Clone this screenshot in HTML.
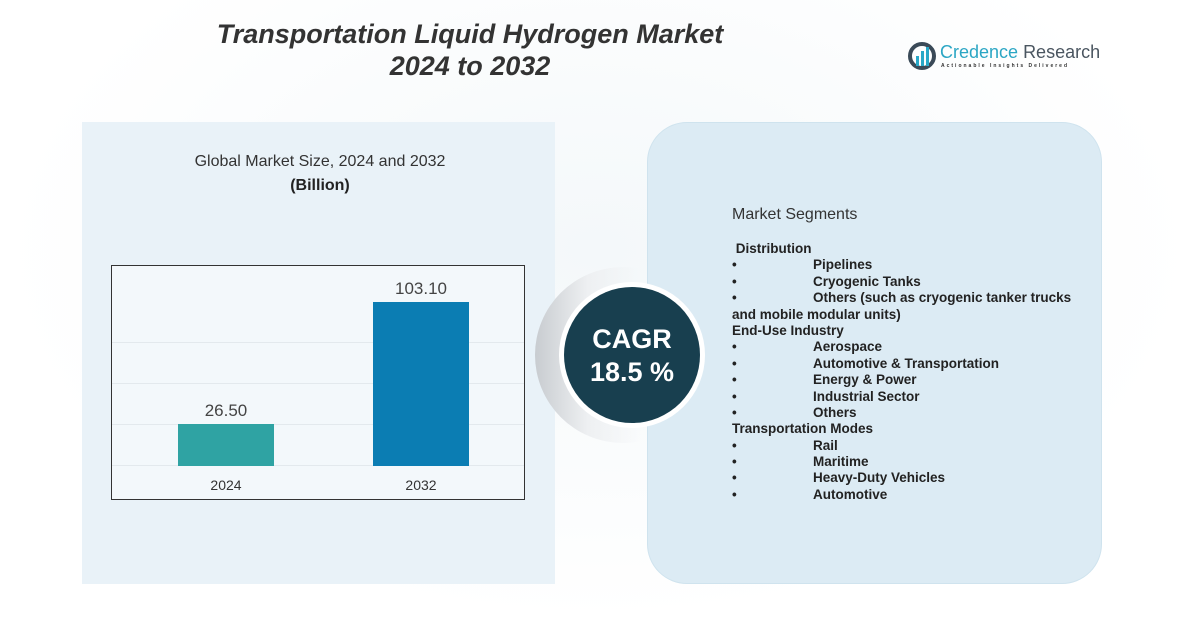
<!DOCTYPE html>
<html><head><meta charset="utf-8"><style>
body{margin:0;width:1197px;height:622px;background:#fff;position:relative;overflow:hidden;font-family:"Liberation Sans",sans-serif}
.a{position:absolute}
.seg div{height:16.4px;white-space:nowrap}
</style></head><body>
<div class="a" style="left:0;top:0;width:1197px;height:622px;background:radial-gradient(ellipse at 50% 40%,#f4f8fa,#fff 70%)"></div>
<div class="a" style="left:82px;top:122px;width:473px;height:462px;background:#e9f2f8"></div>
<div class="a" style="left:647px;top:122px;width:455px;height:462px;background:#dcebf4;border-radius:40px;border:1px solid #cfe3ee;box-sizing:border-box"></div>
<div class="a" style="left:150px;top:18px;width:640px;text-align:center;font-size:27px;font-weight:bold;font-style:italic;color:#333;line-height:32px">Transportation Liquid Hydrogen Market<br>2024 to 2032</div>
<svg class="a" style="left:908px;top:42px" width="30" height="30"><circle cx="14" cy="14" r="12" fill="none" stroke="#3a4a58" stroke-width="4"/><rect x="8" y="14" width="3" height="10" fill="#27a8c8"/><rect x="13" y="9" width="3" height="15" fill="#27a8c8"/><rect x="18" y="5" width="3" height="19" fill="#27a8c8"/></svg>
<div class="a" style="left:940px;top:42px;font-size:18px;color:#2ba6c4;white-space:nowrap">Credence <span style="color:#4a5560">Research</span></div>
<div class="a" style="left:941px;top:63px;font-size:5px;letter-spacing:2px;color:#333;font-weight:bold;white-space:nowrap">Actionable Insights Delivered</div>
<div class="a" style="left:150px;top:153px;width:340px;text-align:center;font-size:16px;color:#333">Global Market Size, 2024 and 2032</div>
<div class="a" style="left:150px;top:177px;width:340px;text-align:center;font-size:16px;font-weight:bold;color:#222">(Billion)</div>
<div class="a" style="left:111px;top:265px;width:414px;height:235px;border:1px solid #333;box-sizing:border-box;background:#f3f8fb"></div>
<div class="a" style="left:112px;top:302px;width:412px;height:164px;background:repeating-linear-gradient(#f3f8fb 0 40px,#e3e9ed 40px 41px)"></div>
<div class="a" style="left:178px;top:424px;width:96px;height:42px;background:#2fa3a3"></div>
<div class="a" style="left:373px;top:302px;width:96px;height:164px;background:#0b7db3"></div>
<div class="a" style="left:178px;top:401px;width:96px;text-align:center;font-size:17px;color:#444">26.50</div>
<div class="a" style="left:373px;top:279px;width:96px;text-align:center;font-size:17px;color:#444">103.10</div>
<div class="a" style="left:178px;top:477px;width:96px;text-align:center;font-size:14px;color:#333">2024</div>
<div class="a" style="left:373px;top:477px;width:96px;text-align:center;font-size:14px;color:#333">2032</div>
<div class="a" style="left:535px;top:267px;width:176px;height:176px;border-radius:50%;background:linear-gradient(90deg,#c8ccd0,#eef0f2 30%,rgba(255,255,255,0) 60%)"></div>
<div class="a" style="left:559px;top:282px;width:146px;height:146px;border-radius:50%;background:#fff"></div>
<div class="a" style="left:564px;top:287px;width:136px;height:136px;border-radius:50%;background:#183f4f;color:#fff;text-align:center;font-weight:bold;font-size:27px;line-height:33px;box-sizing:border-box;padding-top:36px">CAGR<br>18.5 %</div>
<div class="a" style="left:732px;top:206px;font-size:16px;color:#333">Market Segments</div>
<div class="a seg" style="left:732px;top:241px;font-size:13.5px;font-weight:bold;color:#222;line-height:16.4px">
<div>&nbsp;Distribution</div>
<div>•<span style="position:absolute;left:81px">Pipelines</span></div>
<div>•<span style="position:absolute;left:81px">Cryogenic Tanks</span></div>
<div>•<span style="position:absolute;left:81px">Others (such as cryogenic tanker trucks</span></div>
<div>and mobile modular units)</div>
<div>End-Use Industry</div>
<div>•<span style="position:absolute;left:81px">Aerospace</span></div>
<div>•<span style="position:absolute;left:81px">Automotive &amp; Transportation</span></div>
<div>•<span style="position:absolute;left:81px">Energy &amp; Power</span></div>
<div>•<span style="position:absolute;left:81px">Industrial Sector</span></div>
<div>•<span style="position:absolute;left:81px">Others</span></div>
<div>Transportation Modes</div>
<div>•<span style="position:absolute;left:81px">Rail</span></div>
<div>•<span style="position:absolute;left:81px">Maritime</span></div>
<div>•<span style="position:absolute;left:81px">Heavy-Duty Vehicles</span></div>
<div>•<span style="position:absolute;left:81px">Automotive</span></div>
</div>
</body></html>
